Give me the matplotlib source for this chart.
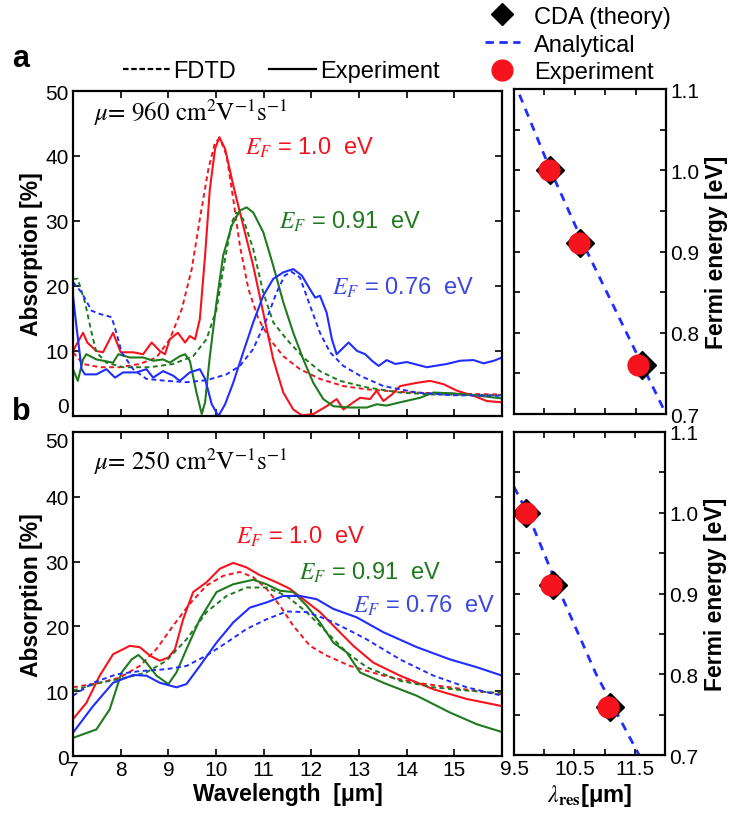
import numpy as np
import matplotlib
matplotlib.use('Agg')
import matplotlib.pyplot as plt
from matplotlib.lines import Line2D

plt.rcParams['font.family'] = ['Liberation Sans', 'DejaVu Sans']
plt.rcParams['mathtext.fontset'] = 'stix'
plt.rcParams['axes.linewidth'] = 1.6

RED = '#f5141e'
GREEN = '#1f7a1f'
BLUE = '#1f2eff'

# ---- panel a (mu = 960) : wavelength [um], absorption [%]
a_red_exp_x = [7.0, 7.21, 7.3, 7.49, 7.63, 7.84, 8.0, 8.26, 8.47, 8.65, 8.82, 8.93, 9.03, 9.2, 9.35, 9.45,
               9.56, 9.66, 9.77, 9.87, 9.98, 10.07, 10.19, 10.36, 10.57, 10.78, 10.99, 11.2, 11.41, 11.62,
               11.8, 12.04, 12.32, 12.53, 12.67, 12.88, 13.02, 13.23, 13.37, 13.51, 13.69, 13.86, 14.21,
               14.49, 14.77, 15.05, 15.4, 15.68, 16.0]
a_red_exp_y = [10.0, 12.8, 11.3, 10.0, 9.8, 12.8, 9.8, 9.8, 9.5, 11.3, 10.0, 9.5, 11.8, 12.8, 11.3, 12.3,
               11.8, 14.9, 24.7, 34.9, 41.1, 42.9, 41.1, 35.5, 29.3, 23.1, 15.9, 8.7, 3.6, 1.0,
               0.1, 0.3, 1.5, 2.6, 1.0, 2.1, 2.8, 2.6, 3.9, 2.3, 3.3, 4.6, 5.1,
               5.4, 4.9, 3.9, 3.1, 2.3, 2.1]
a_red_fdtd_x = [7.0, 7.21, 7.56, 7.98, 8.4, 8.75, 9.03, 9.28, 9.49, 9.66, 9.84, 9.98, 10.08, 10.22, 10.36,
                10.5, 10.68, 10.89, 11.13, 11.41, 11.76, 12.18, 12.67, 13.16, 13.86, 14.56, 16.0]
a_red_fdtd_y = [9.8, 8.0, 7.5, 7.5, 8.0, 9.0, 11.8, 16.4, 22.6, 30.3, 38.0, 42.1, 42.7, 40.1, 33.4,
                26.2, 19.5, 14.9, 11.8, 9.2, 7.2, 5.7, 4.6, 4.1, 3.7, 3.5, 3.3]
a_grn_exp_x = [7.0, 7.1, 7.21, 7.28, 7.49, 7.84, 7.95, 8.19, 8.47, 8.68, 8.89, 9.03, 9.24, 9.35, 9.45, 9.59,
               9.7, 9.77, 9.87, 10.01, 10.15, 10.33, 10.5, 10.64, 10.78, 10.99, 11.2, 11.41, 11.62, 11.83,
               12.04, 12.25, 12.46, 12.81, 13.16, 13.37, 13.58, 13.86, 14.28, 14.56, 14.91, 15.4, 16.0]
a_grn_exp_y = [7.2, 5.4, 8.7, 9.5, 8.7, 8.2, 9.5, 9.0, 9.0, 8.5, 8.7, 8.2, 9.2, 9.5, 8.5, 3.6,
               0.3, 2.1, 9.2, 17.5, 24.7, 29.3, 31.6, 32.1, 31.3, 28.3, 23.1, 17.5, 12.8, 8.7,
               5.1, 2.6, 1.5, 1.3, 1.3, 1.8, 1.6, 2.1, 2.8, 3.6, 3.5, 3.2, 2.7]
a_grn_fdtd_x = [7.0, 7.1, 7.25, 7.39, 7.49, 7.7, 8.05, 8.61, 9.1, 9.52, 9.8, 10.01, 10.19, 10.33, 10.43,
                10.57, 10.78, 10.99, 11.2, 11.48, 11.83, 12.18, 12.6, 13.16, 13.86, 14.56, 16.0]
a_grn_fdtd_y = [21.1, 21.1, 17.5, 12.8, 9.8, 8.2, 7.5, 7.5, 8.0, 9.2, 11.8, 16.4, 24.2, 29.8, 31.3,
                30.3, 25.7, 19.0, 14.4, 11.8, 9.0, 6.9, 5.4, 4.4, 3.6, 3.3, 3.2]
a_blu_exp_x = [7.0, 7.07, 7.18, 7.25, 7.49, 7.7, 7.88, 8.05, 8.33, 8.54, 8.68, 8.89, 9.1, 9.24, 9.45, 9.66,
               9.77, 9.91, 10.05, 10.19, 10.36, 10.57, 10.78, 10.99, 11.2, 11.41, 11.62, 11.8, 11.97,
               12.08, 12.18, 12.32, 12.43, 12.53, 12.64, 12.78, 12.96, 13.13, 13.27, 13.41, 13.58,
               13.76, 14.0, 14.42, 14.84, 15.12, 15.4, 15.61, 15.83, 16.0]
a_blu_exp_y = [18.5, 13.9, 7.2, 6.4, 6.4, 7.2, 5.9, 6.7, 6.7, 7.2, 5.9, 6.9, 6.2, 5.4, 6.7, 7.2,
               5.7, 1.8, 0.0, 1.8, 5.1, 9.8, 14.4, 18.5, 21.1, 22.1, 22.6, 21.6, 19.5,
               18.2, 18.5, 15.9, 11.8, 9.5, 10.3, 11.3, 10.0, 9.5, 8.5, 7.7, 8.6,
               8.0, 8.3, 7.5, 8.0, 8.5, 8.6, 8.1, 8.5, 9.0]
a_blu_fdtd_x = [7.0, 7.18, 7.39, 7.56, 7.81, 7.91, 8.02, 8.26, 8.54, 8.96, 9.38, 9.8, 10.22, 10.5, 10.78,
                11.06, 11.27, 11.44, 11.58, 11.76, 11.97, 12.18, 12.39, 12.67, 13.02, 13.51, 14.21,
                14.91, 16.0]
a_blu_fdtd_y = [20.6, 19.0, 16.2, 15.7, 15.2, 12.8, 9.8, 7.2, 5.7, 5.4, 5.2, 5.5, 6.4, 7.7, 10.3,
                14.9, 19.0, 21.6, 22.2, 21.3, 17.0, 12.8, 9.8, 7.7, 6.2, 4.6, 3.6,
                3.2, 3.1]

# ---- panel b (mu = 250)
b_red_exp_x = [7.0, 7.28, 7.56, 7.84, 8.19, 8.4, 8.61, 8.82, 9.0, 9.14, 9.31, 9.52, 9.8, 10.08, 10.36,
               10.64, 10.92, 11.27, 11.55, 11.83, 12.18, 12.53, 12.88, 13.3, 13.86, 14.56, 15.26, 16.0]
b_red_exp_y = [5.7, 8.2, 12.4, 15.7, 17.0, 16.8, 15.5, 14.7, 15.2, 16.5, 21.1, 25.3, 26.8, 28.9, 29.8,
               29.1, 27.9, 26.8, 25.8, 24.2, 22.2, 19.6, 17.0, 14.4, 12.4, 10.3, 8.8, 7.7]
b_red_fdtd_x = [7.0, 7.56, 7.98, 8.4, 8.75, 9.1, 9.45, 9.8, 10.15, 10.5, 10.78, 11.06, 11.34, 11.62,
                11.97, 12.32, 12.81, 13.51, 14.21, 14.91, 16.0]
b_red_fdtd_y = [10.6, 11.3, 12.1, 13.9, 16.5, 20.1, 23.5, 26.3, 27.8, 28.4, 27.6, 25.8, 23.2, 20.1,
                17.0, 15.5, 13.9, 12.4, 11.3, 10.6, 9.5]
b_grn_exp_x = [7.0, 7.49, 7.77, 8.02, 8.23, 8.37, 8.54, 8.75, 9.0, 9.17, 9.38, 9.66, 10.01, 10.36, 10.78,
               11.06, 11.34, 11.62, 11.9, 12.18, 12.46, 12.74, 13.02, 13.51, 14.21, 14.91, 15.47, 16.0]
b_grn_exp_y = [2.8, 4.1, 7.2, 12.9, 14.9, 15.6, 14.4, 12.4, 11.1, 12.9, 16.5, 21.1, 25.3, 26.5, 27.2,
               26.5, 25.5, 25.3, 23.2, 20.6, 17.5, 16.0, 12.9, 11.3, 9.3, 6.7, 4.9, 3.7]
b_grn_fdtd_x = [7.0, 7.56, 8.12, 8.54, 8.96, 9.38, 9.8, 10.22, 10.64, 11.06, 11.48, 11.9, 12.32, 12.74,
                13.16, 13.86, 14.56, 15.26, 16.0]
b_grn_fdtd_y = [10.1, 11.3, 12.1, 12.9, 14.7, 18.0, 22.2, 24.7, 26.0, 26.0, 24.7, 22.2, 19.1, 16.0,
                13.7, 11.6, 10.6, 10.1, 9.7]
b_blu_exp_x = [7.0, 7.42, 7.84, 8.26, 8.54, 8.82, 9.17, 9.38, 9.66, 10.01, 10.36, 10.71, 11.06, 11.41,
               11.76, 12.11, 12.46, 12.95, 13.51, 14.21, 14.91, 15.47, 16.0]
b_blu_exp_y = [3.6, 7.7, 11.3, 12.5, 12.4, 11.3, 10.6, 11.1, 13.9, 17.5, 20.6, 22.9, 23.7, 24.7,
               24.7, 24.2, 22.7, 21.4, 19.1, 16.8, 14.9, 13.7, 12.4]
b_blu_fdtd_x = [7.0, 7.42, 7.91, 8.4, 8.96, 9.38, 9.8, 10.22, 10.64, 11.06, 11.48, 11.9, 12.32, 12.74,
                13.16, 13.86, 14.56, 15.26, 16.0]
b_blu_fdtd_y = [9.3, 11.3, 12.6, 13.1, 13.4, 13.9, 15.5, 17.5, 19.6, 21.1, 22.3, 22.2, 21.1, 19.6,
                18.0, 14.9, 12.4, 10.6, 9.3]

# ---- resonance wavelength vs Fermi energy
ef_levels = [1.0, 0.91, 0.76]
a_cda_lam = [10.09, 10.58, 11.60]
a_exp_lam = [10.08, 10.57, 11.54]
a_ana_lam = [9.59, 10.10, 10.70, 11.35, 12.0]
a_ana_ef = [1.093, 1.0, 0.9, 0.8, 0.70]
b_cda_lam = [9.70, 10.15, 11.09]
b_exp_lam = [9.69, 10.12, 11.05]
b_ana_lam = [9.50, 9.72, 10.27, 10.86, 11.57]
b_ana_ef = [1.032, 1.0, 0.9, 0.8, 0.70]

ef_labels = ['$E_F$ = 1.0  eV', '$E_F$ = 0.91  eV', '$E_F$ = 0.76  eV']
label_colors = ['#f5141e', '#1f7a1f', '#3a48e0']

fig = plt.figure(figsize=(7.36, 8.2), dpi=100)
ax_a = fig.add_axes([0.0992, 0.4915, 0.583, 0.3963])
ax_b = fig.add_axes([0.0992, 0.0768, 0.583, 0.3952])
ax_ar = fig.add_axes([0.6984, 0.4939, 0.2065, 0.3963])
ax_br = fig.add_axes([0.6984, 0.0780, 0.2052, 0.3940])

fdtd_style = dict(ls=(0, (2.5, 1.8)), lw=1.4)
exp_style = dict(ls='-', lw=1.5)


def spectra(ax, curves, mu_text, label_pos):
    for (xe, ye, xf, yf), c in zip(curves, [RED, GREEN, BLUE]):
        ax.plot(xf, yf, color=c, **fdtd_style)
        ax.plot(xe, ye, color=c, **exp_style)
    ax.set_xlim(7, 16)
    ax.set_ylim(0, 50)
    ax.set_xticks(range(7, 17))
    ax.set_yticks(range(0, 51, 10))
    ax.tick_params(direction='in', top=True, right=True, length=5, width=1.2,
                   labelsize=15, pad=3)
    ax.set_ylabel('Absorption [%]', fontsize=16.5, fontweight='bold', labelpad=2)
    ax.text(7.45, label_pos[0], mu_text, family='STIXGeneral', fontsize=18,
            ha='left', va='center')
    for (lx, ly), txt, c in zip(label_pos[1:], ef_labels, label_colors):
        ax.text(lx, ly, txt, color=c, fontsize=17, ha='left', va='center')


spectra(ax_a,
        [(a_red_exp_x, a_red_exp_y, a_red_fdtd_x, a_red_fdtd_y),
         (a_grn_exp_x, a_grn_exp_y, a_grn_fdtd_x, a_grn_fdtd_y),
         (a_blu_exp_x, a_blu_exp_y, a_blu_fdtd_x, a_blu_fdtd_y)],
        r'$\mu$= 960 cm$^2$V$^{-1}$s$^{-1}$',
        [46.8, (10.6, 41.4), (11.33, 30.0), (12.44, 19.8)])
ax_a.set_xticklabels([])

spectra(ax_b,
        [(b_red_exp_x, b_red_exp_y, b_red_fdtd_x, b_red_fdtd_y),
         (b_grn_exp_x, b_grn_exp_y, b_grn_fdtd_x, b_grn_fdtd_y),
         (b_blu_exp_x, b_blu_exp_y, b_blu_fdtd_x, b_blu_fdtd_y)],
        r'$\mu$= 250 cm$^2$V$^{-1}$s$^{-1}$',
        [45.5, (10.42, 34.0), (11.73, 28.4), (12.88, 23.4)])
ax_b.set_xticklabels([str(v) for v in range(7, 16)] + [''])
ax_b.set_xlabel('Wavelength  [\u03bcm]', fontsize=16.5, fontweight='bold', labelpad=2)

# keep the "0" of panel a and the "50" of panel b apart
fig.canvas.draw()
ax_a.get_yticklabels()[0].set_va('bottom')
ax_b.get_yticklabels()[-1].set_va('top')


def resonance(ax, cda, exp, ana_x, ana_y):
    ax.plot(ana_x, ana_y, color=BLUE, ls=(0, (3, 2.5)), lw=2.0, zorder=1)
    ax.plot(cda, ef_levels, ls='none', marker='D', ms=14, color='black', zorder=2)
    ax.plot(exp, ef_levels, ls='none', marker='o', ms=15, color='#f5141e',
            markeredgecolor='#f5141e', zorder=3)
    ax.set_xlim(9.5, 12.0)
    ax.set_ylim(0.7, 1.1)
    ax.set_xticks(np.arange(9.5, 12.01, 0.5))
    ax.set_xticklabels(['9.5', '', '10.5', '', '11.5', ''])
    ax.set_yticks(np.arange(0.7, 1.101, 0.05))
    ax.set_yticklabels(['0.7', '', '0.8', '', '0.9', '', '1.0', '', '1.1'])
    ax.yaxis.tick_right()
    ax.yaxis.set_label_position('right')
    ax.tick_params(direction='in', top=True, left=True, right=True, length=4, width=1.2,
                   labelsize=15, pad=3)
    ax.set_ylabel('Fermi energy [eV]', fontsize=16.5, fontweight='bold', labelpad=4)


resonance(ax_ar, a_cda_lam, a_exp_lam, a_ana_lam, a_ana_ef)
ax_ar.set_xticklabels([])
resonance(ax_br, b_cda_lam, b_exp_lam, b_ana_lam, b_ana_ef)
ax_br.set_xlabel(r'$\lambda_{\mathbf{res}}$' + '[\u03bcm]', fontsize=17, fontweight='bold', labelpad=2)

# legends
h_fdtd = Line2D([], [], color='black', ls=(0, (2.5, 1.2)), lw=1.6)
h_exp = Line2D([], [], color='black', ls='-', lw=1.6)
fig.legend([h_fdtd, h_exp], ['FDTD', 'Experiment'], loc='center', ncol=2,
           bbox_to_anchor=(0.382, 0.912), frameon=False, fontsize=17,
           handlelength=2.0, handletextpad=0.15, columnspacing=1.4)

h_cda = Line2D([], [], color='black', marker='D', ms=11, ls='none')
h_ana = Line2D([], [], color=BLUE, ls=(0, (3, 2)), lw=2.0)
h_pt = Line2D([], [], color='#f5141e', marker='o', ms=15, ls='none')
fig.legend([h_cda, h_ana, h_pt], ['CDA (theory)', 'Analytical', 'Experiment'],
           loc='upper left', bbox_to_anchor=(0.636, 1.012), frameon=False, fontsize=17,
           handlelength=1.5, handletextpad=0.6, labelspacing=0.25, borderpad=0.2)

fig.text(0.016, 0.928, 'a', fontsize=22, fontweight='bold', ha='left', va='center')
fig.text(0.016, 0.497, 'b', fontsize=22, fontweight='bold', ha='left', va='center')

fig.savefig('out.png', dpi=100)
